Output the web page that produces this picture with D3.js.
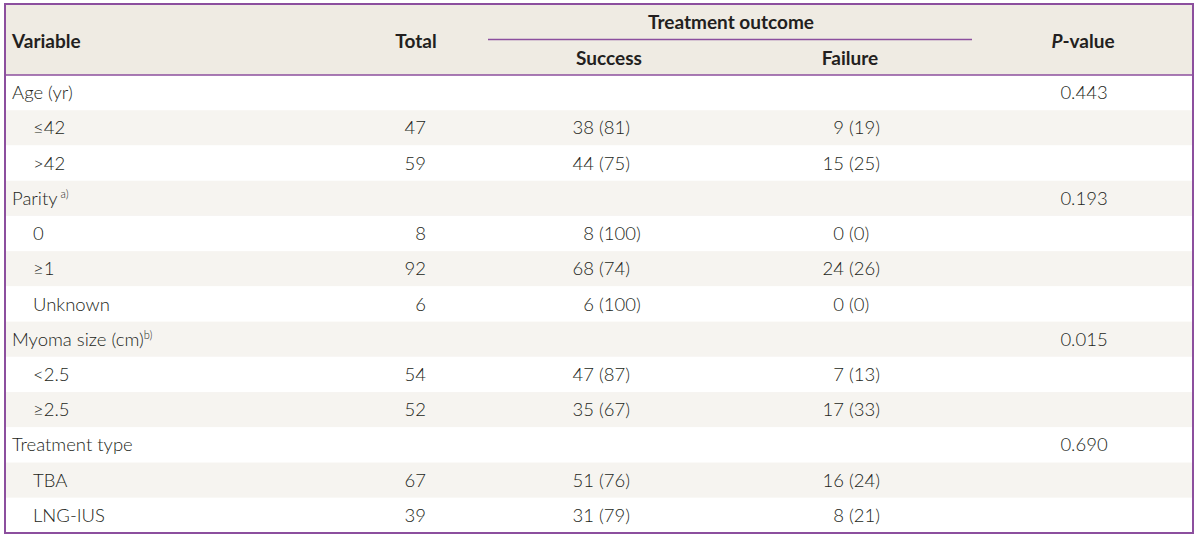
<!DOCTYPE html>
<html><head><meta charset="utf-8">
<script src="https://cdn.jsdelivr.net/npm/d3@7"></script>
<style>body{margin:0;background:#fff}svg{display:block}text{font-family:Lato,"Open Sans",sans-serif;fill:#231f20}</style>
</head><body>
<script>
const labels = ["Age (yr)","≤42",">42","Parity","0","≥1","Unknown","Myoma size (cm)","<2.5","≥2.5","Treatment type","TBA","LNG-IUS"];
const superscripts = ["","","","a)","","","","b)","","","","",""];
const indent = [0,1,1,0,1,1,1,0,1,1,0,1,1];
const totals = [null,47,59,null,8,92,6,null,54,52,null,67,39];
const successN = [null,38,44,null,8,68,6,null,47,35,null,51,31];
const successPct = [null,81,75,null,100,74,100,null,87,67,null,76,79];
const failureN = [null,9,15,null,0,24,0,null,7,17,null,16,8];
const failurePct = [null,19,25,null,0,26,0,null,13,33,null,24,21];
const pValues = ["0.443","","","0.193","","","","0.015","","","0.690","",""];

const W=1200,H=537, border="#8c4f9e", headBg="#efebe3", stripe="#f6f4f0";
const svg=d3.select("body").append("svg").attr("width",W).attr("height",H);
const x0=5,x1=1193,yTop=4,yHead=75,yBot=533;
const y=d3.scaleBand().domain(d3.range(labels.length)).range([yHead,yBot]);

svg.append("rect").attr("x",x0).attr("y",yTop).attr("width",x1-x0).attr("height",yHead-yTop).attr("fill",headBg);
svg.selectAll("rect.row").data(d3.range(labels.length)).join("rect").attr("class","row")
  .attr("x",x0).attr("y",i=>y(i)).attr("width",x1-x0).attr("height",y.bandwidth())
  .attr("fill",i=>i%2?stripe:"#fff");

const fs=18.5;
// header
const hd=svg.append("g").style("font-weight","700").style("font-size","19px");
hd.append("text").attr("x",12).attr("y",48).text("Variable");
hd.append("text").attr("x",416).attr("y",48).attr("text-anchor","middle").text("Total");
hd.append("text").attr("x",731).attr("y",29).attr("text-anchor","middle").text("Treatment outcome");
hd.append("text").attr("x",609).attr("y",65).attr("text-anchor","middle").text("Success");
hd.append("text").attr("x",850).attr("y",65).attr("text-anchor","middle").text("Failure");
const pv=hd.append("text").attr("x",1083).attr("y",48).attr("text-anchor","middle");
pv.append("tspan").style("font-style","italic").text("P");
pv.append("tspan").text("-value");
svg.append("line").attr("x1",488).attr("x2",972).attr("y1",39.5).attr("y2",39.5).attr("stroke",border).attr("stroke-width",1.3);

const body=svg.append("g").style("font-size",fs+"px").style("font-weight","300");
const rows=body.selectAll("g.r").data(d3.range(labels.length)).join("g").attr("class","r")
  .attr("transform",i=>`translate(0,${y(i)+y.bandwidth()/2+6.5})`);
rows.each(function(i){
  const g=d3.select(this);
  const t=g.append("text").attr("x",indent[i]?33:12).text(labels[i]);
  if(superscripts[i]){
    t.append("tspan").attr("dx",i===3?3:0).attr("dy",-7).style("font-size","11px").text(superscripts[i]);
  }
  if(totals[i]!=null){
    g.append("text").attr("x",426).attr("text-anchor","end").text(totals[i]);
    g.append("text").attr("x",594).attr("text-anchor","end").text(successN[i]);
    g.append("text").attr("x",599).text(`(${successPct[i]})`);
    g.append("text").attr("x",844).attr("text-anchor","end").text(failureN[i]);
    g.append("text").attr("x",849).text(`(${failurePct[i]})`);
  }
  if(pValues[i]) g.append("text").attr("x",1084).attr("text-anchor","middle").text(pValues[i]);
});

svg.append("line").attr("x1",x0).attr("x2",x1).attr("y1",yHead).attr("y2",yHead).attr("stroke",border).attr("stroke-width",1.5);
svg.append("rect").attr("x",x0).attr("y",yTop).attr("width",x1-x0).attr("height",yBot-yTop).attr("fill","none").attr("stroke",border).attr("stroke-width",2);
</script>
</body></html>
